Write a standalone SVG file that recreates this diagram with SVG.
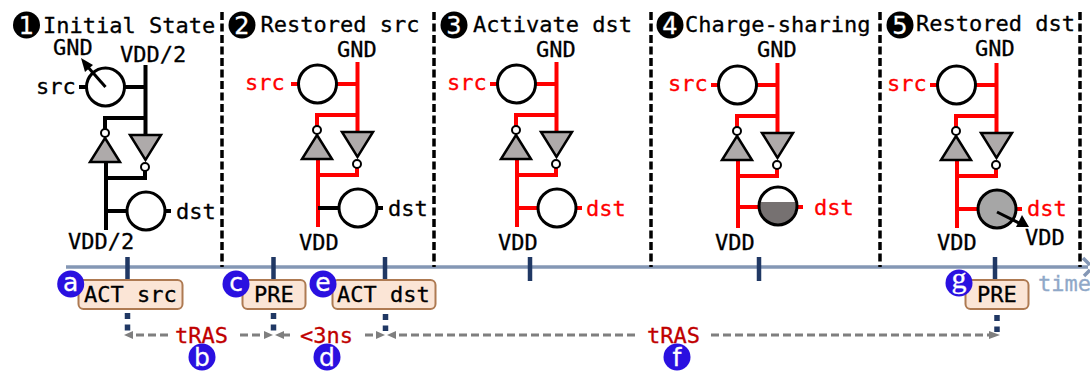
<svg xmlns="http://www.w3.org/2000/svg" width="1090" height="371" viewBox="0 0 1090 371">
<style>
text{font-family:"DejaVu Sans Mono","Liberation Mono",monospace;font-size:22px;fill:#000;stroke:#000;stroke-width:.3}
text.r{fill:#f00;stroke:#f00}
.w{fill:none;stroke-width:4;stroke:#000}
.red{stroke:#f00}
.c{fill:#fff;stroke:#000;stroke-width:3}
.t{fill:#aeaaaa;stroke:#000;stroke-width:2.5;stroke-linejoin:miter}
.b{fill:#fff;stroke:#000;stroke-width:2}
.dv{stroke:#000;stroke-width:3.500;stroke-dasharray:8 3.500;fill:none}
.tick{stroke:#203864;stroke-width:4.500;fill:none}
.dot{stroke:#203864;stroke-width:5.500;stroke-dasharray:6 5.500;fill:none}
.box{fill:#fbe5d6;stroke:#ae7a52;stroke-width:2}
.g{stroke:#7f7f7f;stroke-width:3;stroke-dasharray:8 4;fill:none}
.ah{fill:#7f7f7f}
.n{fill:#000}
text.nt{fill:#fff;stroke:#fff;font-family:"DejaVu Sans",sans-serif;font-size:24px;text-anchor:middle}
.l{fill:#2a10e0}
text.lt{fill:#fff;stroke:#fff;stroke-width:.3;font-family:"DejaVu Sans",sans-serif;font-size:25px;text-anchor:middle}
text.tr{fill:#c00000;stroke:#c00000}
text.tm{fill:#8fa8c8;stroke:#8fa8c8}
</style>
<defs>
<g id="inv"><circle class="b" cx="105" cy="133" r="4"/><path class="t" d="M105 138L120 162H90Z"/><path class="t" d="M130 135H161L145.500 160Z"/><circle class="b" cx="145" cy="167" r="4"/></g>
</defs>
<g id="connectors">
<path d="M66 267H1088" stroke="#8497b5" stroke-width="3.500" fill="none"/>
<path d="M1083 258L1090 265M1090 270L1084 276" stroke="#8497b5" stroke-width="3.500" fill="none"/>
<path class="dv" d="M222 12V267M434 12V267M651 12V267M880 12V267M1080 12V267"/>
<path class="tick" d="M127.500 257V280M273.500 257V280M385 257V280M530 257V281M759 257V281M995 257V280"/>
<path class="dot" d="M127.500 313V331M273.500 313V331M385.500 314V331M997 315V332"/>
<g id="timing-arrows">
<path class="g" d="M168 335H129"/><path class="ah" d="M124 335L133 331V339Z"/>
<path class="g" d="M240 335H266"/><path class="ah" d="M273 335L264 331V339Z"/>
<path class="g" d="M290 335H282"/><path class="ah" d="M275 335L284 331V339Z"/>
<path class="g" d="M365 335H378"/><path class="ah" d="M385 335L376 331V339Z"/>
<path class="g" d="M635 335H394"/><path class="ah" d="M387 335L396 331V339Z"/>
<path class="g" d="M711 335H992"/><path class="ah" d="M1000 335L989 331V339Z"/>
</g>
</g>
<g id="panel1">
<circle class="n" cx="26.500" cy="25" r="13.500"/><text class="nt" x="26.500" y="33.500">1</text>
<text x="43" y="33">Initial State</text>
<text x="53" y="55">GND</text><text x="120" y="62">VDD/2</text><text x="36" y="94">src</text><text x="176" y="219">dst</text><text x="68" y="249">VDD/2</text>
<path class="w" d="M79 87H87M124 87H145.500M145.500 65V136M145.500 118H105V130M145 171V178H106M106 162V230M106 211H127M165 211H171"/>
<circle class="c" cx="105.500" cy="87" r="19"/><circle class="c" cx="146" cy="211" r="19"/>
<use href="#inv"/>
<path class="w" style="stroke-width:3" d="M105.500 87L87 66"/><path class="n" d="M81 58L93 65L85 72Z"/>
</g>
<g id="panel2" transform="translate(212 -3)">
<circle class="n" cx="30" cy="28" r="13.500"/><text class="nt" x="30" y="36.500">2</text>
<text x="48.500" y="35">Restored src</text>
<text x="125" y="60">GND</text><text x="33" y="93" class="r">src</text>
<path class="w red" d="M79 87H87M124 87H145.500M145.500 65V136M145.500 118H105V130M145 171V178H106M106 162V230"/>
<path class="w" d="M106 211H127M165 211H171"/>
<circle class="c" cx="105.500" cy="87" r="19"/><circle class="c" cx="146" cy="211" r="19"/>
<use href="#inv"/>
<text x="176" y="219">dst</text><text x="87" y="253">VDD</text>
</g>
<g id="panel3" transform="translate(411 -3)">
<circle class="n" cx="43" cy="28" r="13.500"/><text class="nt" x="43" y="36.500">3</text>
<text x="62" y="35">Activate dst</text>
<text x="125" y="60">GND</text><text x="36" y="93" class="r">src</text>
<path class="w red" d="M79 87H87M124 87H145.500M145.500 65V136M145.500 118H105V130M145 171V178H106M106 162V230M106 211H127M165 211H171"/>
<circle class="c" cx="105.500" cy="87" r="19"/><circle class="c" cx="146" cy="211" r="19"/>
<use href="#inv"/>
<text x="175" y="219" class="r">dst</text><text x="87" y="253">VDD</text>
</g>
<g id="panel4" transform="translate(632 -2)">
<circle class="n" cx="38" cy="27" r="13.500"/><text class="nt" x="38" y="35.500">4</text>
<text x="53" y="34">Charge-sharing</text>
<text x="125" y="59">GND</text><text x="36" y="93" class="r">src</text>
<path class="w red" d="M79 87H87M124 87H145.500M145.500 65V136M145.500 118H105V130M145 171V178H106M106 162V230M106 209H127M165 209H171"/>
<circle class="c" cx="105.500" cy="87" r="19"/><circle cx="146" cy="208" r="19" fill="#fff"/>
<path d="M128.500 204H163.500A18 18 0 1 1 128.500 204Z" fill="#767171"/>
<circle cx="146" cy="208" r="19" fill="none" stroke="#000" stroke-width="3"/>
<use href="#inv"/>
<text x="182" y="217" class="r">dst</text><text x="83" y="252">VDD</text>
</g>
<g id="panel5" transform="translate(851 -2)">
<circle class="n" cx="49" cy="27" r="13.500"/><text class="nt" x="49" y="35.500">5</text>
<text x="65" y="33">Restored dst</text>
<text x="124" y="58">GND</text><text x="36" y="93" class="r">src</text>
<path class="w red" d="M79 87H87M124 87H145.500M145.500 65V136M145.500 118H105V130M145 171V178H106M106 162V230M106 211H127M165 211H171"/>
<circle class="c" cx="105.500" cy="87" r="19"/><circle class="c" cx="146" cy="211" r="19" style="fill:#a6a6a6"/>
<use href="#inv"/>
<path class="w" style="stroke-width:3" d="M146 214L170 226"/><path class="n" d="M178 229H165L171 217Z"/>
<text x="176" y="218" class="r">dst</text><text x="174" y="247">VDD</text><text x="86" y="252">VDD</text>
</g>
<g id="cmd-act-src"><rect class="box" x="78.500" y="280" width="104" height="29" rx="5"/><text x="84" y="302">ACT src</text></g>
<g id="cmd-pre1"><rect class="box" x="242.500" y="280" width="63" height="29" rx="5"/><text x="254" y="302">PRE</text></g>
<g id="cmd-act-dst"><rect class="box" x="332.500" y="280" width="103" height="29" rx="5"/><text x="337" y="302">ACT dst</text></g>
<g id="cmd-pre2"><rect class="box" x="965.500" y="280" width="63" height="29" rx="5"/><text x="977" y="302">PRE</text></g>
<text x="175" y="343" class="tr">tRAS</text><text x="300" y="343" class="tr">&lt;3ns</text><text x="647" y="343" class="tr">tRAS</text>
<text x="1038" y="291" class="tm">time</text>
<g id="badge-a"><circle class="l" cx="70.700" cy="284" r="13.500"/><text class="lt" x="70.700" y="291">a</text></g>
<g id="badge-b"><circle class="l" cx="202" cy="357" r="13.500"/><text class="lt" x="202" y="366">b</text></g>
<g id="badge-c"><circle class="l" cx="236" cy="284" r="13.500"/><text class="lt" x="236" y="291">c</text></g>
<g id="badge-d"><circle class="l" cx="327" cy="357" r="13.500"/><text class="lt" x="327" y="366">d</text></g>
<g id="badge-e"><circle class="l" cx="323" cy="284" r="13.500"/><text class="lt" x="323" y="291">e</text></g>
<g id="badge-f"><circle class="l" cx="677" cy="357" r="13.500"/><text class="lt" x="677" y="366">f</text></g>
<g id="badge-g"><circle class="l" cx="959" cy="283" r="13.500"/><text class="lt" style="font-family:'Liberation Serif',serif;font-size:30px" x="959" y="288">g</text></g>
</svg>
